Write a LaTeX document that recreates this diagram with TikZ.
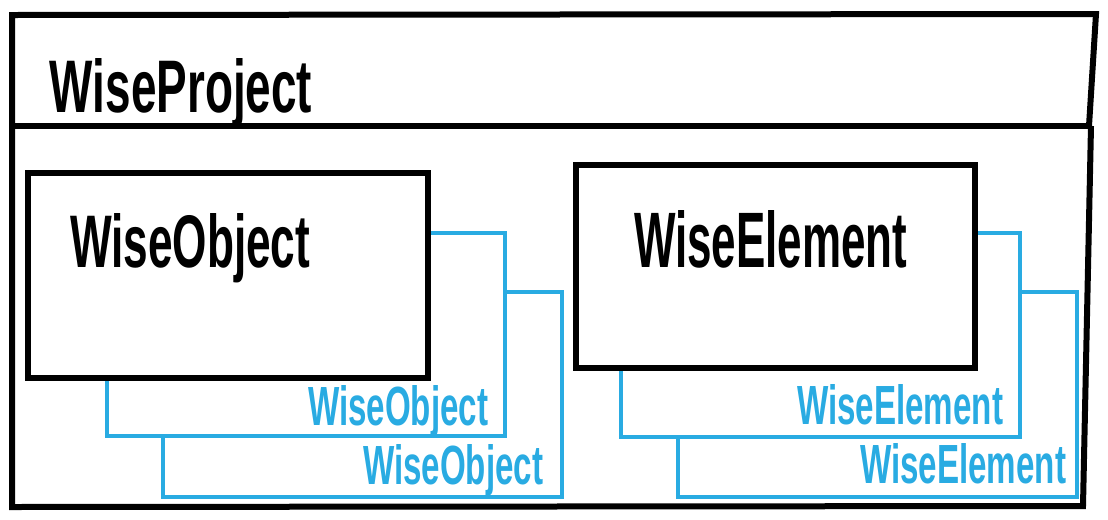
\documentclass[tikz,border=0pt]{standalone}
\usepackage{fontspec}
\newfontfamily\cond[FakeStretch=0.6]{Liberation Sans}
\definecolor{wblue}{HTML}{29ABE2}
\newcommand{\fittxt}[3]{\resizebox{#1pt}{#2pt}{\cond\bfseries #3}}
\begin{document}
\begin{tikzpicture}[x=0.75pt,y=-0.75pt,
  outerline/.style={line width=4.5pt,black,line join=miter},
  boxline/.style={line width=3.8pt,black,fill=white,line join=miter},
  backline/.style={line width=3pt,wblue,line join=miter},
  lbl/.style={anchor=base west,inner sep=0pt,outer sep=0pt}]
\useasboundingbox (0,0) rectangle (1108,519);
% outer frame
\coordinate (tl) at (12,15);
\coordinate (tr) at (1096,14);
\coordinate (hr) at (1089,126);
\coordinate (hl) at (12,126);
\coordinate (mr) at (1091,126);
\coordinate (br) at (1083,506);
\coordinate (bl) at (12,507);
\draw[outerline] (hr) -- (tr) -- (tl) -- (bl) -- (br) -- (mr);
\draw[outerline] (hl) -- (hr);
\node[lbl] (proj) at (50,112) {\fittxt{196.5}{40.5}{WiseProject}};
% WiseObject back frames
\coordinate (oa1) at (428,233);
\coordinate (oa2) at (505,233);
\coordinate (oa3) at (505,436);
\coordinate (oa4) at (107,436);
\coordinate (oa5) at (107,378);
\coordinate (ob1) at (505,292);
\coordinate (ob2) at (562,292);
\coordinate (ob3) at (562,497);
\coordinate (ob4) at (163,497);
\coordinate (ob5) at (163,436);
\draw[backline] (oa1) -- (oa2) -- (oa3) -- (oa4) -- (oa5);
\draw[backline] (ob1) -- (ob2) -- (ob3) -- (ob4) -- (ob5);
\coordinate (o1) at (28,173);
\coordinate (o2) at (428,378);
\draw[boxline] (o1) rectangle (o2);
\node[lbl] (objt) at (70,267) {\fittxt{180}{40.5}{WiseObject}};
\node[lbl] (objs1) at (308,425) {\color{wblue}\fittxt{135}{30}{WiseObject}};
\node[lbl] (objs2) at (363,484) {\color{wblue}\fittxt{135}{30}{WiseObject}};
% WiseElement back frames
\coordinate (ea1) at (975,233);
\coordinate (ea2) at (1020,233);
\coordinate (ea3) at (1020,437);
\coordinate (ea4) at (621,437);
\coordinate (ea5) at (621,368);
\coordinate (eb1) at (1020,292);
\coordinate (eb2) at (1077,292);
\coordinate (eb3) at (1077,497);
\coordinate (eb4) at (678,497);
\coordinate (eb5) at (678,437);
\draw[backline] (ea1) -- (ea2) -- (ea3) -- (ea4) -- (ea5);
\draw[backline] (eb1) -- (eb2) -- (eb3) -- (eb4) -- (eb5);
\coordinate (e1) at (576,165);
\coordinate (e2) at (975,368);
\draw[boxline] (e1) rectangle (e2);
\node[lbl] (elt) at (634,267) {\fittxt{204.75}{42.75}{WiseElement}};
\node[lbl] (els1) at (797,424) {\color{wblue}\fittxt{154.5}{30}{WiseElement}};
\node[lbl] (els2) at (860,483) {\color{wblue}\fittxt{154.5}{30}{WiseElement}};
\end{tikzpicture}
\end{document}
